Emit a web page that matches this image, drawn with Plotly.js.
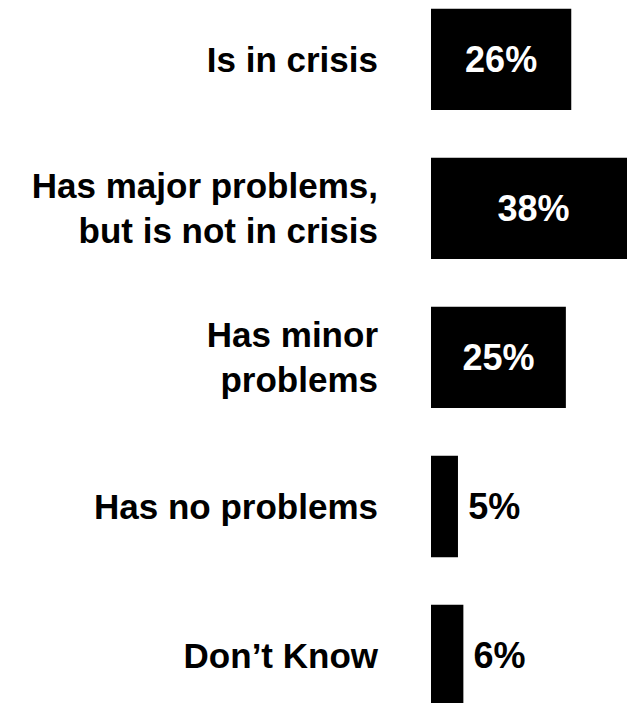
<!DOCTYPE html>
<html>
<head>
<meta charset="utf-8">
<script src="https://cdn.plot.ly/plotly-3.0.1.min.js"></script>
<style>
html, body { margin: 0; padding: 0; overflow: hidden; background: #fff; }
#chart { width: 636px; height: 703px; }
</style>
</head>
<body>
<div id="chart"></div>
<script>
const categories = [
  "Is in crisis",
  "Has major problems,<br>but is not in crisis",
  "Has minor<br>problems",
  "Has no problems",
  "Don\u2019t Know"
];
const values = [26, 38, 25, 5, 6];
const textPositions = ["inside", "inside", "inside", "outside", "outside"];

const labels = values.map((v, i) => (textPositions[i] === "outside" ? "\u2009" : "") + v + "%");

const trace = {
  type: "bar",
  orientation: "h",
  y: categories,
  x: values,
  text: labels,
  textposition: textPositions,
  insidetextanchor: "middle",
  constraintext: "none",
  cliponaxis: false,
  width: 0.68,
  marker: { color: "#000000", line: { width: 0 } },
  insidetextfont: { family: "Liberation Sans, Arial, sans-serif", size: 36, color: "#ffffff", weight: "bold" },
  outsidetextfont: { family: "Liberation Sans, Arial, sans-serif", size: 36, color: "#000000", weight: "bold" },
  hoverinfo: "none"
};

const layout = {
  width: 636,
  height: 703,
  margin: { l: 431, r: 0, t: 0, b: 0, pad: 0 },
  paper_bgcolor: "#ffffff",
  plot_bgcolor: "#ffffff",
  showlegend: false,
  xaxis: {
    range: [0, 38],
    visible: false,
    fixedrange: true
  },
  yaxis: {
    type: "category",
    range: [4.319, -0.399],
    showgrid: false,
    zeroline: false,
    showline: false,
    ticks: "",
    ticklabelstandoff: 52,
    tickfont: { family: "Liberation Sans, Arial, sans-serif", size: 35, color: "#000000", weight: "bold" },
    fixedrange: true
  }
};

Plotly.newPlot("chart", [trace], layout, { displayModeBar: false, staticPlot: true });
</script>
</body>
</html>
